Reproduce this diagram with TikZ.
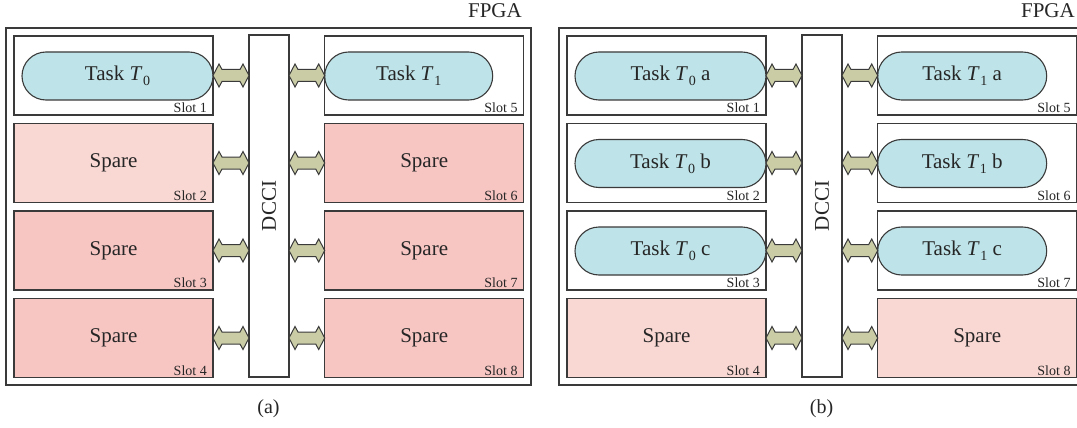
\documentclass[tikz,border=0pt]{standalone}
\usepackage{fontspec}
\setmainfont{Liberation Serif}
\usetikzlibrary{calc}

\definecolor{edge}{HTML}{3A3A3A}
\definecolor{taskblue}{HTML}{BEE3E8}
\definecolor{sparedark}{HTML}{F7C6C3}
\definecolor{sparelight}{HTML}{F9D7D2}
\definecolor{linkfill}{HTML}{C9CCA5}

% task name T with an upright subscript
\newcommand\taskT[1]{\textit{T}\kern0.03em\raisebox{-5pt}{\fontsize{14}{14}\selectfont #1}}

% fat double-headed link between two points on one horizontal line
\newcommand\dblarrow[2]{%
  \draw[linkarrow] let \p1=(#1), \p2=(#2) in
    (\x1,\y1) -- (\x1+6pt,\y1+11.5pt) -- (\x1+9pt,\y1+6pt)
    -- (\x2-9pt,\y1+6pt) -- (\x2-6pt,\y1+11.5pt) -- (\x2,\y1)
    -- (\x2-6pt,\y1-11.5pt) -- (\x2-9pt,\y1-6pt)
    -- (\x1+9pt,\y1-6pt) -- (\x1+6pt,\y1-11.5pt) -- cycle;}

\tikzset{
  box/.style={draw=edge, line width=1.1pt, inner sep=0pt, outer sep=0pt},
  bigtext/.style={font=\fontsize{21}{24}\selectfont, text=black!85},
  fpgabox/.style={box, anchor=north west, minimum width=525pt, minimum height=357pt},
  dccibox/.style={box, fill=white, anchor=north west, minimum width=40pt, minimum height=342pt},
  slotbox/.style={box, anchor=north west, minimum width=199pt, minimum height=79pt, bigtext},
  freeslot/.style={slotbox, fill=white},
  darkspare/.style={slotbox, fill=sparedark},
  lightspare/.style={slotbox, fill=sparelight},
  slotlabel/.style={anchor=base east, font=\fontsize{14}{16}\selectfont, text=black!85, inner sep=0pt},
  taskbox/.style={box, fill=taskblue, rounded corners=24pt, anchor=north west,
                  minimum height=48pt, bigtext},
  linkarrow/.style={draw=edge, line width=1pt, fill=linkfill, line join=miter},
  caption/.style={font=\fontsize{20}{24}\selectfont, text=black!85},
}

\begin{document}
\begin{tikzpicture}[x=1pt,y=-1pt]
\useasboundingbox (0,0) rectangle (1077,428);

% ---------------- configuration (a) ----------------
\begin{scope}
  \node[fpgabox] (afpga) at (6,28) {};
  \node[bigtext, anchor=base east, inner sep=0pt] (afpgatext)
    at ([xshift=-9pt,yshift=10.5pt]afpga.north east) {FPGA};
  \node[dccibox] (adcci) at (249,35) {};
  \node[bigtext, rotate=90] (adccitext) at (adcci.center) {DCCI};

  \foreach \k/\x/\y/\s/\t in {1/14/36/freeslot/{}, 2/14/123.5/lightspare/Spare,
      3/14/211/darkspare/Spare, 4/14/298.5/darkspare/Spare,
      5/324.7/36/freeslot/{}, 6/324.7/123.5/darkspare/Spare,
      7/324.7/211/darkspare/Spare, 8/324.7/298.5/darkspare/Spare}{
    \node[\s] (a\k) at (\x,\y) {\t};
    \node[slotlabel] (a\k lab) at ([xshift=-6pt,yshift=2.5pt]a\k.south east) {Slot \k};
  }

  \node[taskbox, minimum width=191pt] (at0) at ([xshift=8pt,yshift=-16pt]a1.north west) {Task \taskT{0}};
  \node[taskbox, minimum width=168pt] (at1) at ([yshift=-16pt]a5.north west) {Task \taskT{1}};

  \foreach \k in {1,...,4}{\dblarrow{a\k.east}{a\k.east -| adcci.west}}
  \foreach \k in {5,...,8}{\dblarrow{a\k.west -| adcci.east}{a\k.west}}

  \node[caption] (acap) at (268.5,409) {(a)};
\end{scope}

% ---------------- configuration (b) ----------------
\begin{scope}[xshift=553pt]
  \node[fpgabox] (bfpga) at (6,28) {};
  \node[bigtext, anchor=base east, inner sep=0pt] (bfpgatext)
    at ([xshift=-9pt,yshift=10.5pt]bfpga.north east) {FPGA};
  \node[dccibox] (bdcci) at (249,35) {};
  \node[bigtext, rotate=90] (bdccitext) at (bdcci.center) {DCCI};

  \foreach \k/\x/\y/\s/\t in {1/14/36/freeslot/{}, 2/14/123.5/freeslot/{},
      3/14/211/freeslot/{}, 4/14/298.5/lightspare/Spare,
      5/324.7/36/freeslot/{}, 6/324.7/123.5/freeslot/{},
      7/324.7/211/freeslot/{}, 8/324.7/298.5/lightspare/Spare}{
    \node[\s] (b\k) at (\x,\y) {\t};
    \node[slotlabel] (b\k lab) at ([xshift=-6pt,yshift=2.5pt]b\k.south east) {Slot \k};
  }

  \foreach \k/\p in {1/a, 2/b, 3/c}{
    \node[taskbox, minimum width=191pt] (bt0\p) at ([xshift=8pt,yshift=-16pt]b\k.north west) {Task \taskT{0} \p};
  }
  \foreach \k/\p in {5/a, 6/b, 7/c}{
    \node[taskbox, minimum width=169pt] (bt1\p) at ([yshift=-16pt]b\k.north west) {Task \taskT{1} \p};
  }

  \foreach \k in {1,...,4}{\dblarrow{b\k.east}{b\k.east -| bdcci.west}}
  \foreach \k in {5,...,8}{\dblarrow{b\k.west -| bdcci.east}{b\k.west}}

  \node[caption] (bcap) at (268.5,409) {(b)};
\end{scope}
\end{tikzpicture}
\end{document}
